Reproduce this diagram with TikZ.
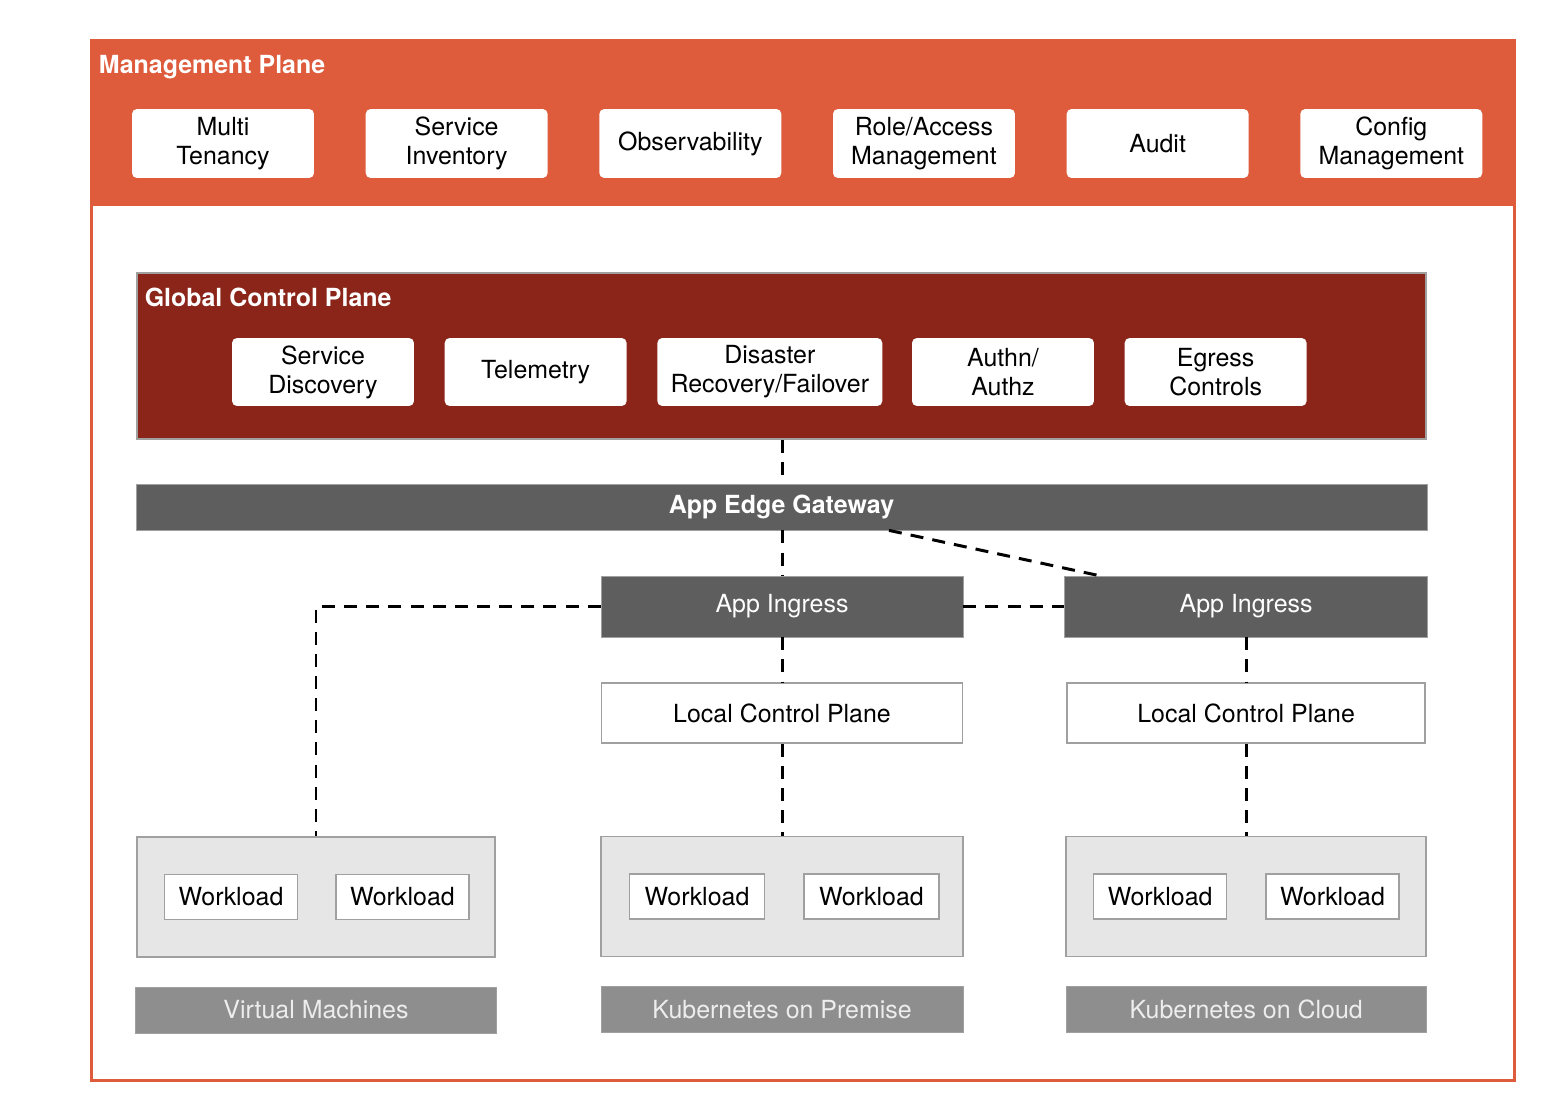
\documentclass[tikz,border=0pt]{standalone}
\usepackage{fontspec}
\setmainfont{TeX Gyre Heros}
\usetikzlibrary{positioning}

\definecolor{mgmtorange}{RGB}{222,91,60}
\definecolor{gcpred}{RGB}{139,37,26}
\definecolor{gwgray}{RGB}{94,94,94}
\definecolor{infragray}{RGB}{142,142,142}
\definecolor{groupgray}{RGB}{230,230,230}
\definecolor{edgegray}{RGB}{160,160,160}

\begin{document}
\begin{tikzpicture}[x=0.02cm, y=-0.02cm, node distance=0.9cm,
    font=\fontsize{14.2}{16.4}\selectfont,
    title/.style={text=white, font=\fontsize{14.2}{16.4}\selectfont\bfseries, inner sep=0pt, anchor=west},
    mbox/.style={rectangle, rounded corners=2.8pt, fill=white, align=center, minimum width=3.64cm, minimum height=1.38cm, inner sep=0pt},
    gbox/.style={mbox, minimum height=1.36cm},
    gwbar/.style={rectangle, fill=gwgray, draw=edgegray, line width=0.4pt, text=white, minimum width=7.24cm, minimum height=1.22cm, inner sep=0pt},
    lcpbox/.style={rectangle, fill=white, draw=edgegray, line width=0.8pt, minimum width=7.22cm, minimum height=1.2cm, inner sep=0pt},
    group/.style={rectangle, fill=groupgray, draw=edgegray, line width=0.8pt, minimum width=7.24cm, minimum height=2.4cm, inner sep=0pt},
    wbox/.style={rectangle, fill=white, draw=edgegray, line width=0.8pt, minimum width=2.66cm, minimum height=0.9cm, inner sep=0pt},
    infrabar/.style={rectangle, fill=infragray, draw=edgegray, line width=0.4pt, text=black!7, minimum width=7.22cm, minimum height=0.92cm, inner sep=0pt},
    link/.style={draw=black, line width=1.7pt, dash pattern=on 7.4pt off 5.2pt}]

    \useasboundingbox (0,0) rectangle (1544,1112);

    % management plane
    \node[draw=mgmtorange, line width=1.7pt, minimum width=28.48cm, minimum height=20.82cm, inner sep=0pt] (mgmt) at (803,560.5) {};
    \node[fill=mgmtorange, minimum width=28.48cm, minimum height=3.34cm, inner sep=0pt, anchor=north] (mgmthead) at (mgmt.north) {};
    \node[title] (mgmttitle) at ([shift={(0.18cm,-0.58cm)}]mgmt.north west) {Management Plane};

    \node[mbox] (tenancy) at (223,143.5) {Multi\\Tenancy};
    \node[mbox] (inventory) [right=1.02cm of tenancy] {Service\\Inventory};
    \node[mbox] (observ) [right=1.02cm of inventory] {Observability};
    \node[mbox] (access) [right=1.02cm of observ] {Role/Access\\Management};
    \node[mbox] (audit) [right=1.02cm of access] {Audit};
    \node[mbox] (config) [right=1.02cm of audit] {Config\\Management};

    % global control plane
    \node[fill=gcpred, draw=edgegray, line width=0.8pt, minimum width=25.78cm, minimum height=3.32cm, inner sep=0pt] (gcp) at (781.5,356) {};
    \node[title] (gcptitle) at ([shift={(0.16cm,-0.5cm)}]gcp.north west) {Global Control Plane};

    \node[gbox] (discovery) at (323,372) {Service\\Discovery};
    \node[gbox] (telemetry) [right=0.6cm of discovery] {Telemetry};
    \node[gbox, minimum width=4.5cm] (failover) [right=0.6cm of telemetry] {Disaster\\Recovery/Failover};
    \node[gbox] (authz) [right=0.58cm of failover] {Authn/\\Authz};
    \node[gbox] (egress) [right=0.6cm of authz] {Egress\\Controls};

    % gateway and ingress
    \node[gwbar, minimum width=25.82cm, minimum height=0.92cm, font=\fontsize{14.2}{16.4}\selectfont\bfseries] (edgegw) [below=0.88cm of gcp] {App Edge Gateway};
    \node[gwbar] (ingress1) at (782,606.5) {App Ingress};
    \node[gwbar, minimum width=7.26cm] (ingress2) [right=2.02cm of ingress1] {App Ingress};

    \node[lcpbox] (lcp1) [below=0.9cm of ingress1] {Local Control Plane};
    \node[lcpbox, minimum width=7.16cm] (lcp2) [below=0.9cm of ingress2] {Local Control Plane};

    % workloads
    \node[group, minimum width=7.16cm] (grp1) at (316,897) {};
    \node[group] (grp2) [below=1.84cm of lcp1] {};
    \node[group, minimum width=7.2cm] (grp3) [below=1.84cm of lcp2] {};

    \node[wbox] (vmwork1) [right=0.55cm of grp1.west] {Workload};
    \node[wbox] (vmwork2) [right=0.74cm of vmwork1] {Workload};
    \node[wbox, minimum width=2.7cm] (premwork1) [right=0.57cm of grp2.west] {Workload};
    \node[wbox, minimum width=2.7cm] (premwork2) [right=0.76cm of premwork1] {Workload};
    \node[wbox] (cloudwork1) [right=0.55cm of grp3.west] {Workload};
    \node[wbox] (cloudwork2) [right=0.76cm of cloudwork1] {Workload};

    \node[infrabar] (vmlabel) [below=0.58cm of grp1] {Virtual Machines};
    \node[infrabar, minimum width=7.24cm] (premlabel) [below=0.58cm of grp2] {Kubernetes on Premise};
    \node[infrabar, minimum width=7.2cm] (cloudlabel) [below=0.58cm of grp3] {Kubernetes on Cloud};

    % dashed links
    \draw[link] (gcp.south -| ingress1) -- (edgegw.north -| ingress1);
    \draw[link] (edgegw.south -| ingress1) -- (ingress1);
    \draw[link] ([xshift=2.15cm]edgegw.south) -- ([xshift=0.7cm]ingress2.north west);
    \draw[link] (ingress1.west) -| (grp1.north);
    \draw[link] (ingress1) -- (ingress2);
    \draw[link] (ingress1) -- (lcp1);
    \draw[link] (lcp1) -- (grp2);
    \draw[link] (ingress2) -- (lcp2);
    \draw[link] (lcp2) -- (grp3);

\end{tikzpicture}
\end{document}
